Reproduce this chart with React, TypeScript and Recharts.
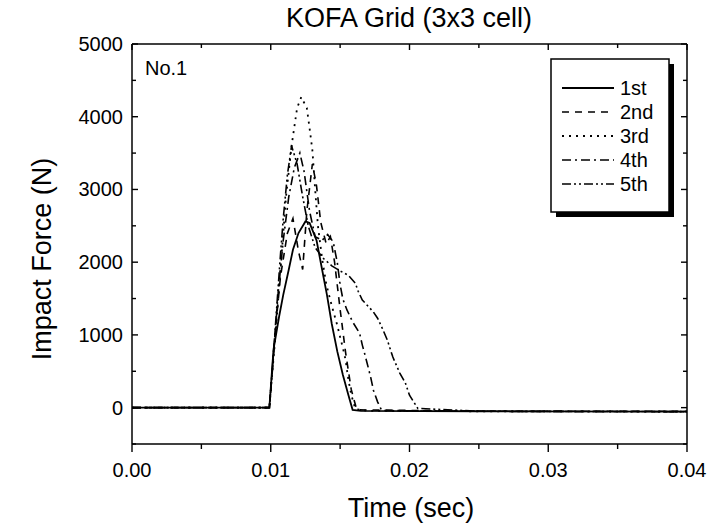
import React from 'react';
import { LineChart, Line, XAxis, YAxis } from 'recharts';

const FONT = '"Liberation Sans", Arial, Helvetica, sans-serif';

// ---- data (time in seconds, impact force in N) ----
const time1st = [0, 0.0099, 0.0102, 0.0106, 0.0109, 0.0113, 0.0116, 0.0120, 0.0125, 0.0128, 0.0133, 0.0138, 0.01405, 0.0144, 0.0148, 0.0152, 0.0156, 0.0159, 0.0165, 0.0250, 0.0400];
const force1st = [0, 0, 800, 1250, 1550, 1900, 2170, 2400, 2560, 2540, 2300, 1800, 1550, 1150, 770, 450, 170, -30, -45, -50, -55];

const time2nd = [0, 0.0099, 0.0103, 0.0107, 0.0112, 0.0116, 0.0120, 0.0123, 0.0126, 0.0130, 0.0133, 0.0136, 0.0140, 0.0143, 0.0146, 0.0150, 0.0154, 0.0158, 0.0162, 0.0250, 0.0400];
const force2nd = [0, 0, 1000, 1800, 2400, 2600, 2150, 1900, 2700, 3350, 3050, 2550, 2250, 2350, 2000, 1350, 750, 250, -30, -50, -50];

const time3rd = [0, 0.0099, 0.0103, 0.0107, 0.0111, 0.0115, 0.0119, 0.0122, 0.0126, 0.0128, 0.0130, 0.0132, 0.0134, 0.0137, 0.0140, 0.0144, 0.0148, 0.0150, 0.0152, 0.0154, 0.0155, 0.0156, 0.0158, 0.0161, 0.0170, 0.0250, 0.0400];
const force3rd = [0, 0, 900, 1900, 2900, 3600, 4120, 4270, 4120, 3840, 3540, 3000, 2500, 2050, 1700, 1400, 1130, 970, 820, 650, 510, 380, 180, -20, -45, -50, -55];

const time4th = [0, 0.0099, 0.0102, 0.0105, 0.0109, 0.0113, 0.0117, 0.0121, 0.0124, 0.0128, 0.0132, 0.0137, 0.0141, 0.0145, 0.0148, 0.0150, 0.0152, 0.0155, 0.0159, 0.0164, 0.0166, 0.0168, 0.0172, 0.0174, 0.0177, 0.0180, 0.0250, 0.0400];
const force4th = [0, 0, 700, 1500, 2300, 2900, 3300, 3500, 3250, 2700, 2350, 2300, 2380, 2280, 1990, 1690, 1490, 1340, 1180, 1025, 860, 720, 420, 240, 80, -40, -50, -55];

const time5th = [0, 0.0099, 0.0101, 0.0104, 0.0107, 0.0109, 0.0112, 0.0115, 0.0119, 0.0123, 0.0127, 0.0132, 0.0138, 0.0144, 0.0150, 0.0156, 0.0161, 0.0163, 0.0166, 0.0174, 0.0177, 0.0181, 0.0184, 0.0188, 0.0193, 0.0197, 0.0200, 0.0206, 0.0250, 0.0400];
const force5th = [0, 0, 500, 1300, 2100, 2600, 3200, 3600, 3350, 2900, 2500, 2200, 2050, 1950, 1880, 1820, 1710, 1600, 1480, 1315, 1230, 1065, 930, 695, 475, 340, 170, -10, -50, -55];

const seriesNames = ['1st', '2nd', '3rd', '4th', '5th'];

const xAllTicks = [0, 0.005, 0.01, 0.015, 0.02, 0.025, 0.03, 0.035, 0.04];
const xMajorTicks = [0, 0.01, 0.02, 0.03, 0.04];
const xTickLabels = ['0.00', '0.01', '0.02', '0.03', '0.04'];
const yAllTicks = [-500, 0, 500, 1000, 1500, 2000, 2500, 3000, 3500, 4000, 4500, 5000];
const yMajorTicks = [0, 1000, 2000, 3000, 4000, 5000];

const zip = (t: number[], f: number[]) => t.map((x, i) => ({ t: x, f: f[i] }));

const seriesData = [
  zip(time1st, force1st),
  zip(time2nd, force2nd),
  zip(time3rd, force3rd),
  zip(time4th, force4th),
  zip(time5th, force5th),
];

const seriesStyle = [
  { dash: undefined as string | undefined, width: 1.8 },
  { dash: '7 6', width: 1.6 },
  { dash: '2 5', width: 1.8 },
  { dash: '9 4 2 4', width: 1.6 },
  { dash: '9 3 2 3 2 3', width: 1.6 },
];

const majorIndex = (arr: number[], v: number) => arr.findIndex((m) => Math.abs(m - v) < 1e-9);

const BottomTick = (props: any) => {
  const { x, y, payload } = props;
  const idx = majorIndex(xMajorTicks, payload.value);
  const major = idx >= 0;
  return (
    <g>
      <line x1={x} x2={x} y1={y} y2={y + (major ? 8 : 5)} stroke="#000" strokeWidth={1.4} />
      {major && (
        <text x={x} y={y + 33} textAnchor="middle" fontSize={20} fontFamily={FONT} fill="#000">
          {xTickLabels[idx]}
        </text>
      )}
    </g>
  );
};

const TopTick = (props: any) => {
  const { x, y, payload } = props;
  const major = majorIndex(xMajorTicks, payload.value) >= 0;
  return <line x1={x} x2={x} y1={y} y2={y + (major ? 6 : 4)} stroke="#000" strokeWidth={1.4} />;
};

const LeftTick = (props: any) => {
  const { x, y, payload } = props;
  const major = majorIndex(yMajorTicks, payload.value) >= 0;
  return (
    <g>
      <line x1={x} x2={x + (major ? 6 : 4)} y1={y} y2={y} stroke="#000" strokeWidth={1.4} />
      {major && (
        <text x={x - 9} y={y + 7} textAnchor="end" fontSize={20} fontFamily={FONT} fill="#000">
          {payload.value}
        </text>
      )}
    </g>
  );
};

const RightTick = (props: any) => {
  const { x, y, payload } = props;
  const major = majorIndex(yMajorTicks, payload.value) >= 0;
  return <line x1={x} x2={x - (major ? 6 : 4)} y1={y} y2={y} stroke="#000" strokeWidth={1.4} />;
};

const axisLine = { stroke: '#000', strokeWidth: 1.5 };

export default function App() {
  return (
    <div style={{ position: 'absolute', left: 0, top: 0, width: 710, height: 531, background: '#fff' }}>
      <LineChart width={710} height={531} margin={{ top: 43, right: 22, bottom: 57, left: 0 }}>
        <XAxis
          xAxisId="bottom"
          dataKey="t"
          type="number"
          domain={[0, 0.04]}
          ticks={xAllTicks}
          interval={0}
          height={30}
          tickLine={false}
          tickSize={0}
          tickMargin={0}
          axisLine={axisLine}
          tick={<BottomTick />}
          allowDataOverflow
        />
        <XAxis
          xAxisId="top"
          orientation="top"
          dataKey="t"
          type="number"
          domain={[0, 0.04]}
          ticks={xAllTicks}
          interval={0}
          height={1}
          tickLine={false}
          tickSize={0}
          tickMargin={0}
          axisLine={axisLine}
          tick={<TopTick />}
          allowDataOverflow
        />
        <YAxis
          yAxisId="left"
          type="number"
          domain={[-500, 5000]}
          ticks={yAllTicks}
          interval={0}
          width={132}
          tickLine={false}
          tickSize={0}
          tickMargin={0}
          axisLine={axisLine}
          tick={<LeftTick />}
          allowDataOverflow
        />
        <YAxis
          yAxisId="right"
          orientation="right"
          type="number"
          domain={[-500, 5000]}
          ticks={yAllTicks}
          interval={0}
          width={1}
          tickLine={false}
          tickSize={0}
          tickMargin={0}
          axisLine={axisLine}
          tick={<RightTick />}
          allowDataOverflow
        />
        {seriesData.map((d, i) => (
          <Line
            key={seriesNames[i]}
            name={seriesNames[i]}
            data={d}
            dataKey="f"
            xAxisId="bottom"
            yAxisId="left"
            type="linear"
            stroke="#000"
            strokeWidth={seriesStyle[i].width}
            strokeDasharray={seriesStyle[i].dash}
            dot={false}
            activeDot={false}
            isAnimationActive={false}
          />
        ))}
      </LineChart>
      <svg
        width={710}
        height={531}
        style={{ position: 'absolute', left: 0, top: 0, pointerEvents: 'none' }}
        fontFamily={FONT}
      >
        <text x={409} y={27} textAnchor="middle" fontSize={27} fill="#000">
          KOFA Grid (3x3 cell)
        </text>
        <text x={411} y={517} textAnchor="middle" fontSize={27} fill="#000">
          Time (sec)
        </text>
        <text
          x={0}
          y={0}
          transform="translate(51,259) rotate(-90)"
          textAnchor="middle"
          fontSize={27}
          fill="#000"
        >
          Impact Force (N)
        </text>
        <text x={145} y={75} fontSize={20} fill="#000">
          No.1
        </text>
        <rect x={556} y={64} width={118} height={153} fill="#000" />
        <rect x={551} y={59} width={118} height={153} fill="#fff" stroke="#000" strokeWidth={1.5} />
        {seriesNames.map((n, i) => {
          const cy = 88 + i * 24;
          return (
            <g key={n}>
              <line
                x1={562}
                x2={614}
                y1={cy}
                y2={cy}
                stroke="#000"
                strokeWidth={seriesStyle[i].width}
                strokeDasharray={seriesStyle[i].dash}
              />
              <text x={620} y={cy + 7} fontSize={20} fill="#000">
                {n}
              </text>
            </g>
          );
        })}
      </svg>
    </div>
  );
}
